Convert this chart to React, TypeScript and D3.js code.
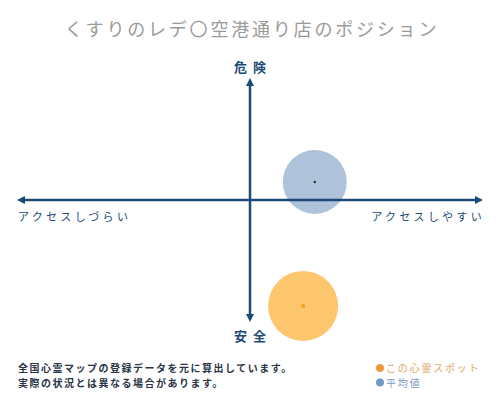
import React from "react";
import * as d3 from "d3";

const title = "くすりのレデ〇空港通り店のポジション";
const axisTop = "危険";
const axisBottom = "安全";
const axisLeft = "アクセスしづらい";
const axisRight = "アクセスしやすい";
const notes = ["全国心霊マップの登録データを元に算出しています。", "実際の状況とは異なる場合があります。"];
const legendLabels = ["この心霊スポット", "平均値"];

// positions on a -5..5 grid (x: access, y: danger)
const spotNames = ["この心霊スポット", "平均値"];
const spotX = [1.14, 1.39];
const spotY = [-4.34, 0.74];

const width = 500;
const height = 400;
const axisColor = "#1d4a78";
const font = "'Noto Sans CJK JP', sans-serif";

const xScale = d3.scaleLinear().domain([-5, 5]).range([17, 483]);
const yScale = d3.scaleLinear().domain([-5, 5]).range([322, 78]);

const fills = ["#fdc66c", "#aec3da"];
const dots = ["#f0a020", "#1d2e40"];
const radii = [35, 32];
const legendColors = ["#ec9a3e", "#6f9ac4"];
const legendText = ["#e2a35c", "#7b9cbf"];

export default function App() {
  const cx = xScale(0);
  const cy = yScale(0);
  const x0 = xScale(-5), x1 = xScale(5);
  const y0 = yScale(5), y1 = yScale(-5);
  const a = 7;
  return (
    <svg width={width} height={height} style={{ position: "absolute", left: 0, top: 0, background: "#fff" }} fontFamily={font}>
      <text x={252} y={36} textAnchor="middle" fontSize={18} fill="#9a9a9a" letterSpacing={2.8}>{title}</text>

      {spotNames.map((n, i) => (
        <g key={n}>
          <circle cx={xScale(spotX[i])} cy={yScale(spotY[i])} r={radii[i]} fill={fills[i]} />
        </g>
      ))}

      <line x1={x0 + a} x2={x1 - a} y1={cy} y2={cy} stroke={axisColor} strokeWidth={2.5} />
      <line x1={cx} x2={cx} y1={y0 + a} y2={y1 - a} stroke={axisColor} strokeWidth={2.5} />
      <path d={`M${x0},${cy} L${x0 + a + 1},${cy - 4} L${x0 + a + 1},${cy + 4} Z`} fill={axisColor} />
      <path d={`M${x1},${cy} L${x1 - a - 1},${cy - 4} L${x1 - a - 1},${cy + 4} Z`} fill={axisColor} />
      <path d={`M${cx},${y0} L${cx - 4},${y0 + a + 1} L${cx + 4},${y0 + a + 1} Z`} fill={axisColor} />
      <path d={`M${cx},${y1} L${cx - 4},${y1 - a - 1} L${cx + 4},${y1 - a - 1} Z`} fill={axisColor} />

      {spotNames.map((n, i) => (
        <circle key={n + "d"} cx={xScale(spotX[i])} cy={yScale(spotY[i])} r={i === 0 ? 2 : 1.2} fill={dots[i]} />
      ))}

      <text x={cx + 3} y={72} textAnchor="middle" fontSize={13} fontWeight="bold" fill={axisColor} letterSpacing={6}>{axisTop}</text>
      <text x={cx + 3} y={341} textAnchor="middle" fontSize={13} fontWeight="bold" fill={axisColor} letterSpacing={6}>{axisBottom}</text>
      <text x={18} y={221} fontSize={11} fill={axisColor} letterSpacing={3.3}>{axisLeft}</text>
      <text x={485} y={221} textAnchor="end" fontSize={11} fill={axisColor} letterSpacing={3.3}>{axisRight}</text>

      {notes.map((t, i) => (
        <text key={t} x={18} y={372 + i * 15} fontSize={10} fontWeight="bold" fill="#2a3445" letterSpacing={1.5}>{t}</text>
      ))}

      {legendLabels.map((t, i) => (
        <g key={t}>
          <circle cx={380} cy={368 + i * 14.5} r={4} fill={legendColors[i]} />
          <text x={386} y={372 + i * 14.5} fontSize={10} fill={legendText[i]} letterSpacing={1.8}>{t}</text>
        </g>
      ))}
    </svg>
  );
}
